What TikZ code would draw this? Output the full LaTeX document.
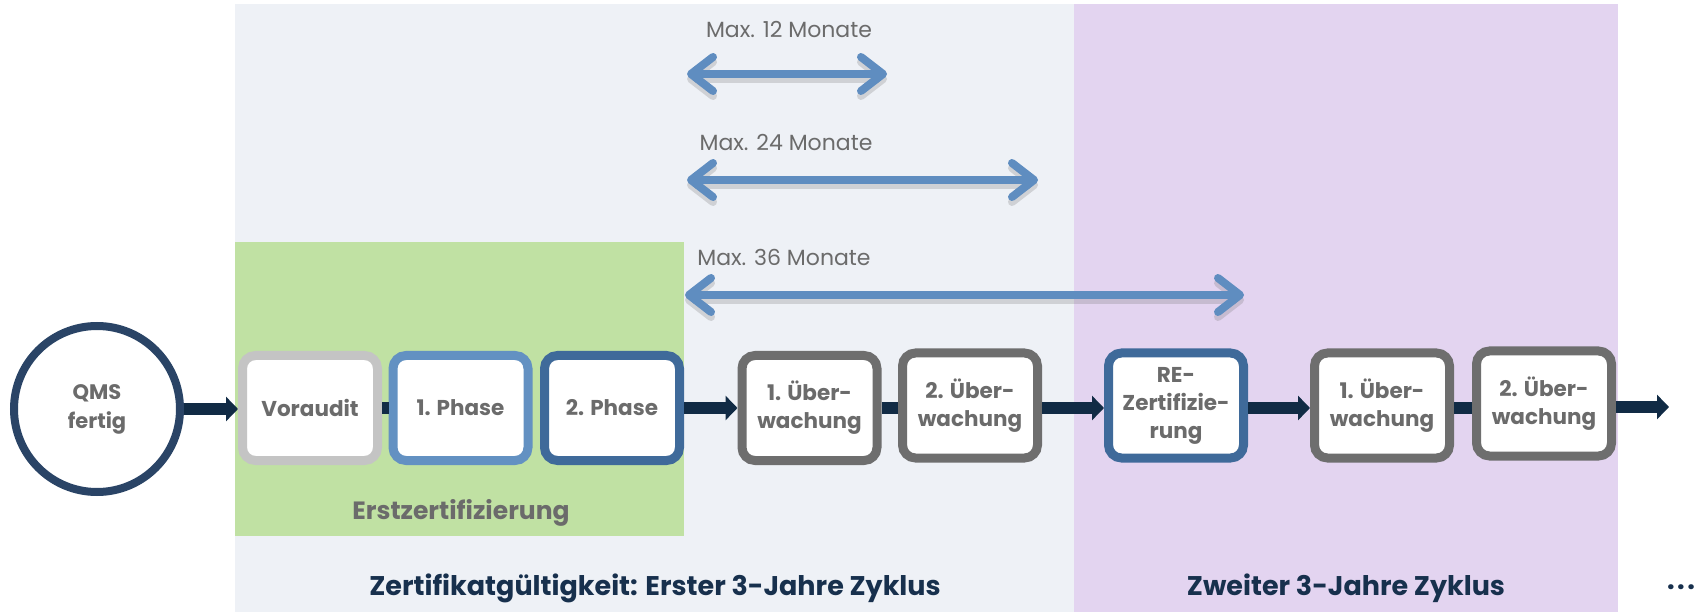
\documentclass[tikz,border=0pt]{standalone}
\usepackage{fontspec}
\setmainfont{Poppins}
\usetikzlibrary{arrows.meta}
\definecolor{panelc}{HTML}{EEF1F6}
\definecolor{purplec}{HTML}{E3D4F0}
\definecolor{greenc}{HTML}{C0E1A3}
\definecolor{navytext}{HTML}{17304D}
\definecolor{circlec}{HTML}{2A4466}
\definecolor{connc}{HTML}{112B45}
\definecolor{graytext}{HTML}{6B6B6B}
\definecolor{lightgrayb}{HTML}{C4C4C4}
\definecolor{lightblueb}{HTML}{6391C2}
\definecolor{darkblueb}{HTML}{3F6A9A}
\definecolor{grayb}{HTML}{6E6E6E}
\definecolor{arrowblue}{HTML}{5F8DC0}
\tikzset{
  stagebox/.style={draw=#1, line width=9pt, fill=white, rounded corners=13pt,
    minimum width=135pt, minimum height=105pt, align=center, inner sep=0pt,
    text=graytext, font=\fontsize{21.5}{28}\selectfont\bfseries},
  flow/.style={draw=connc, line width=12pt},
  flowarrow/.style={flow, -{Triangle[length=12pt,width=24pt]}},
  span/.style={draw=arrowblue, line width=8pt, line cap=round,
    {Straight Barb[length=22pt,width=34pt,round]}-{Straight Barb[length=22pt,width=34pt,round]},
    preaction={draw=black!55, opacity=0.25, line width=8pt, transform canvas={yshift=-5pt}}},
  spanlabel/.style={text=graytext, font=\fontsize{22}{26}\selectfont, inner sep=0pt},
  cyclelabel/.style={text=navytext, font=\fontsize{27}{32}\selectfont\bfseries, inner sep=0pt}
}
\begin{document}
\begin{tikzpicture}[x=1pt,y=-1pt]
\useasboundingbox (0,0) rectangle (1706,612);
% panels
\fill[panelc] (235,4) rectangle (1074,612);
\fill[purplec] (1074,4) rectangle (1618,612);
\fill[greenc] (235,242) rectangle (684,536);
% start circle
\node[circle, draw=circlec, line width=8pt, fill=white, minimum size=166pt, inner sep=0pt,
  align=center, text=graytext, font=\fontsize{21}{29}\selectfont\bfseries] (qms) at (97,409) {QMS\\fertig};
% stages
\node[stagebox=lightgrayb] (vor) at (310,408) {Voraudit};
\node[stagebox=lightblueb] (ph1) at (460.5,408) {1. Phase};
\node[stagebox=darkblueb] (ph2) at (612,408) {2. Phase};
\node[stagebox=grayb] (ue1) at (809.5,408) {1. Über-\\wachung};
\node[stagebox=grayb] (ue2) at (970,405.5) {2. Über-\\wachung};
\node[stagebox=darkblueb] (re) at (1176,405.5) {RE-\\Zertifizie-\\rung};
\node[stagebox=grayb] (ue3) at (1382,405.5) {1. Über-\\wachung};
\node[stagebox=grayb] (ue4) at (1544,403.5) {2. Über-\\wachung};
\coordinate (out) at (1669,407);
% connectors
\draw[flowarrow] (qms.east) -- (vor.west |- qms.east);
\draw[flow] (vor.east) -- (ph1.west);
\draw[flowarrow] (ph2.east) -- (ue1.west);
\draw[flow] (ue1.east) -- (ue2.west |- ue1.east);
\draw[flowarrow] (ue2.east |- ue1.east) -- (re.west |- ue1.east);
\draw[flowarrow] (re.east |- ue1.east) -- (ue3.west |- ue1.east);
\draw[flow] (ue3.east |- ue1.east) -- (ue4.west |- ue1.east);
\draw[flowarrow] (ue4.east |- out) -- (out);
% spans
\node[spanlabel] (l12) at (789,30) {Max. 12 Monate};
\node[spanlabel] (l24) at (786,143) {Max. 24 Monate};
\node[spanlabel] (l36) at (784,257) {Max. 36 Monate};
\coordinate (s12a) at (687,74); \coordinate (s12b) at (887,74);
\coordinate (s24a) at (687,180); \coordinate (s24b) at (1038,180);
\coordinate (s36a) at (685,295); \coordinate (s36b) at (1244,295);
\draw[span] (s12a) -- (s12b);
\draw[span] (s24a) -- (s24b);
\draw[span] (s36a) -- (s36b);
% labels
\node[text=graytext, font=\fontsize{25}{30}\selectfont\bfseries, inner sep=0pt] (erst) at (461,513) {Erstzertifizierung};
\node[cyclelabel] (c1) at (655,588) {Zertifikatgültigkeit: Erster 3-Jahre Zyklus};
\node[cyclelabel] (c2) at (1346,588) {Zweiter 3-Jahre Zyklus};
\node[cyclelabel] (dots) at (1681,587) {.\kern2.5pt.\kern2.5pt.};
\end{tikzpicture}
\end{document}
